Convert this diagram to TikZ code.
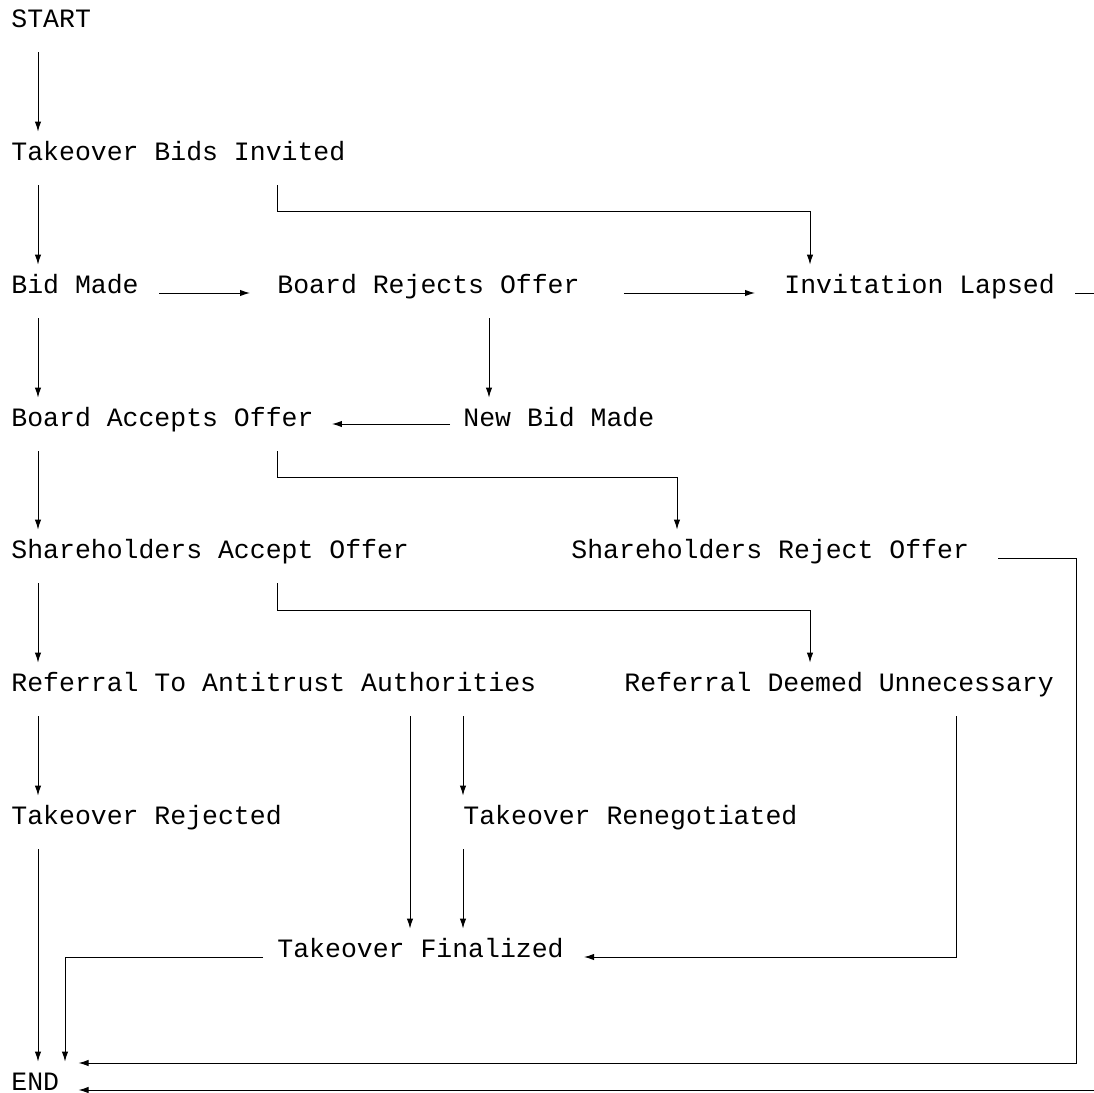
\documentclass[tikz,border=0pt]{standalone}
\usepackage{fontspec}
\setmonofont{Liberation Mono}
\usetikzlibrary{arrows.meta,calc}

\begin{document}
\begin{tikzpicture}[x=0.5pt, y=-0.5pt, >={Latex[length=5pt,width=3.2pt]},
	state/.style={anchor=base west, inner sep=0pt, text height=14pt, text depth=12.5pt,
		font=\ttfamily\fontsize{13.25}{16}\selectfont},
	flow/.style={->, line width=0.5pt}]
	\useasboundingbox (0, 0) rectangle (1094, 1093);
	\clip (0, 0) rectangle (1094, 1093);
	% steps of the takeover
	\node[state] (start) at (11, 27) {START};
	\node[state] (tbi) at (11, 160) {Takeover Bids Invited};
	\node[state] (bid) at (11, 293) {Bid Made};
	\node[state] (bro) at (277, 293) {Board Rejects Offer};
	\node[state] (il) at (784, 293) {Invitation Lapsed};
	\node[state] (bao) at (11, 426) {Board Accepts Offer};
	\node[state] (nbm) at (463, 426) {New Bid Made};
	\node[state] (sao) at (11, 558) {Shareholders Accept Offer};
	\node[state] (sro) at (571, 558) {Shareholders Reject Offer};
	\node[state] (rtaa) at (11, 691) {Referral To Antitrust Authorities};
	\node[state] (rdu) at (624, 691) {Referral Deemed Unnecessary};
	\node[state] (tr) at (11, 824) {Takeover Rejected};
	\node[state] (tren) at (463, 824) {Takeover Renegotiated};
	\node[state] (tf) at (277, 957) {Takeover Finalized};
	\node[state] (stop) at (11, 1090) {END};
	% transitions
	\draw[flow] ($(start.south west)+(27,0)$) -- ($(tbi.north west)+(27,0)$);
	\draw[flow] ($(tbi.south west)+(27,0)$) -- ($(bid.north west)+(27,0)$);
	\draw[flow] ($(tbi.south west)+(266,0)$) -- ++(0,26) -| ($(il.north west)+(26,0)$);
	\draw[flow] ($(bid.base east)+(20,0)$) -- ($(bro.base west)+(-27,0)$);
	\draw[flow] ($(bro.base east)+(44,0)$) -- ($(il.base west)+(-29,0)$);
	\draw[flow] ($(bid.south west)+(27,0)$) -- ($(bao.north west)+(27,0)$);
	\draw[flow] ($(bro.south west)+(212,0)$) -- ($(nbm.north west)+(26,0)$);
	\draw[flow] ($(nbm.base west)+(-13,-2)$) -- ($(bao.base east)+(18,-2)$);
	\draw[flow] ($(bao.south west)+(27,0)$) -- ($(sao.north west)+(27,0)$);
	\draw[flow] ($(bao.south west)+(266,0)$) -- ++(0,26) -| ($(sro.north west)+(106,0)$);
	\draw[flow] ($(sro.base east)+(29,0)$) -- ++(78,0) |- ($(stop.base east)+(19,-27)$);
	\draw[flow] ($(sao.south west)+(27,0)$) -- ($(rtaa.north west)+(27,0)$);
	\draw[flow] ($(sao.south west)+(266,0)$) -- ++(0,27) -| ($(rdu.north west)+(186,0)$);
	\draw[flow] ($(rtaa.south west)+(27,0)$) -- ($(tr.north west)+(27,0)$);
	\draw[flow] ($(rtaa.south west)+(399,0)$) -- ($(tf.north west)+(133,0)$);
	\draw[flow] ($(rtaa.south west)+(452,0)$) -- (tren.north west);
	\draw[flow] ($(rdu.south west)+(332,0)$) |- ($(tf.base east)+(20,0)$);
	\draw[flow] ($(tr.south west)+(27,0)$) -- ($(stop.north west)+(27,0)$);
	\draw[flow] (tren.south west) -- ($(tf.north west)+(186,0)$);
	\draw[flow] ($(tf.base west)+(-14,0)$) -| ($(stop.north west)+(54,0)$);
	\draw[flow] ($(il.base east)+(20,0)$) -- ++(40,0) |- ($(stop.base east)+(19,0)$);
\end{tikzpicture}
\end{document}
